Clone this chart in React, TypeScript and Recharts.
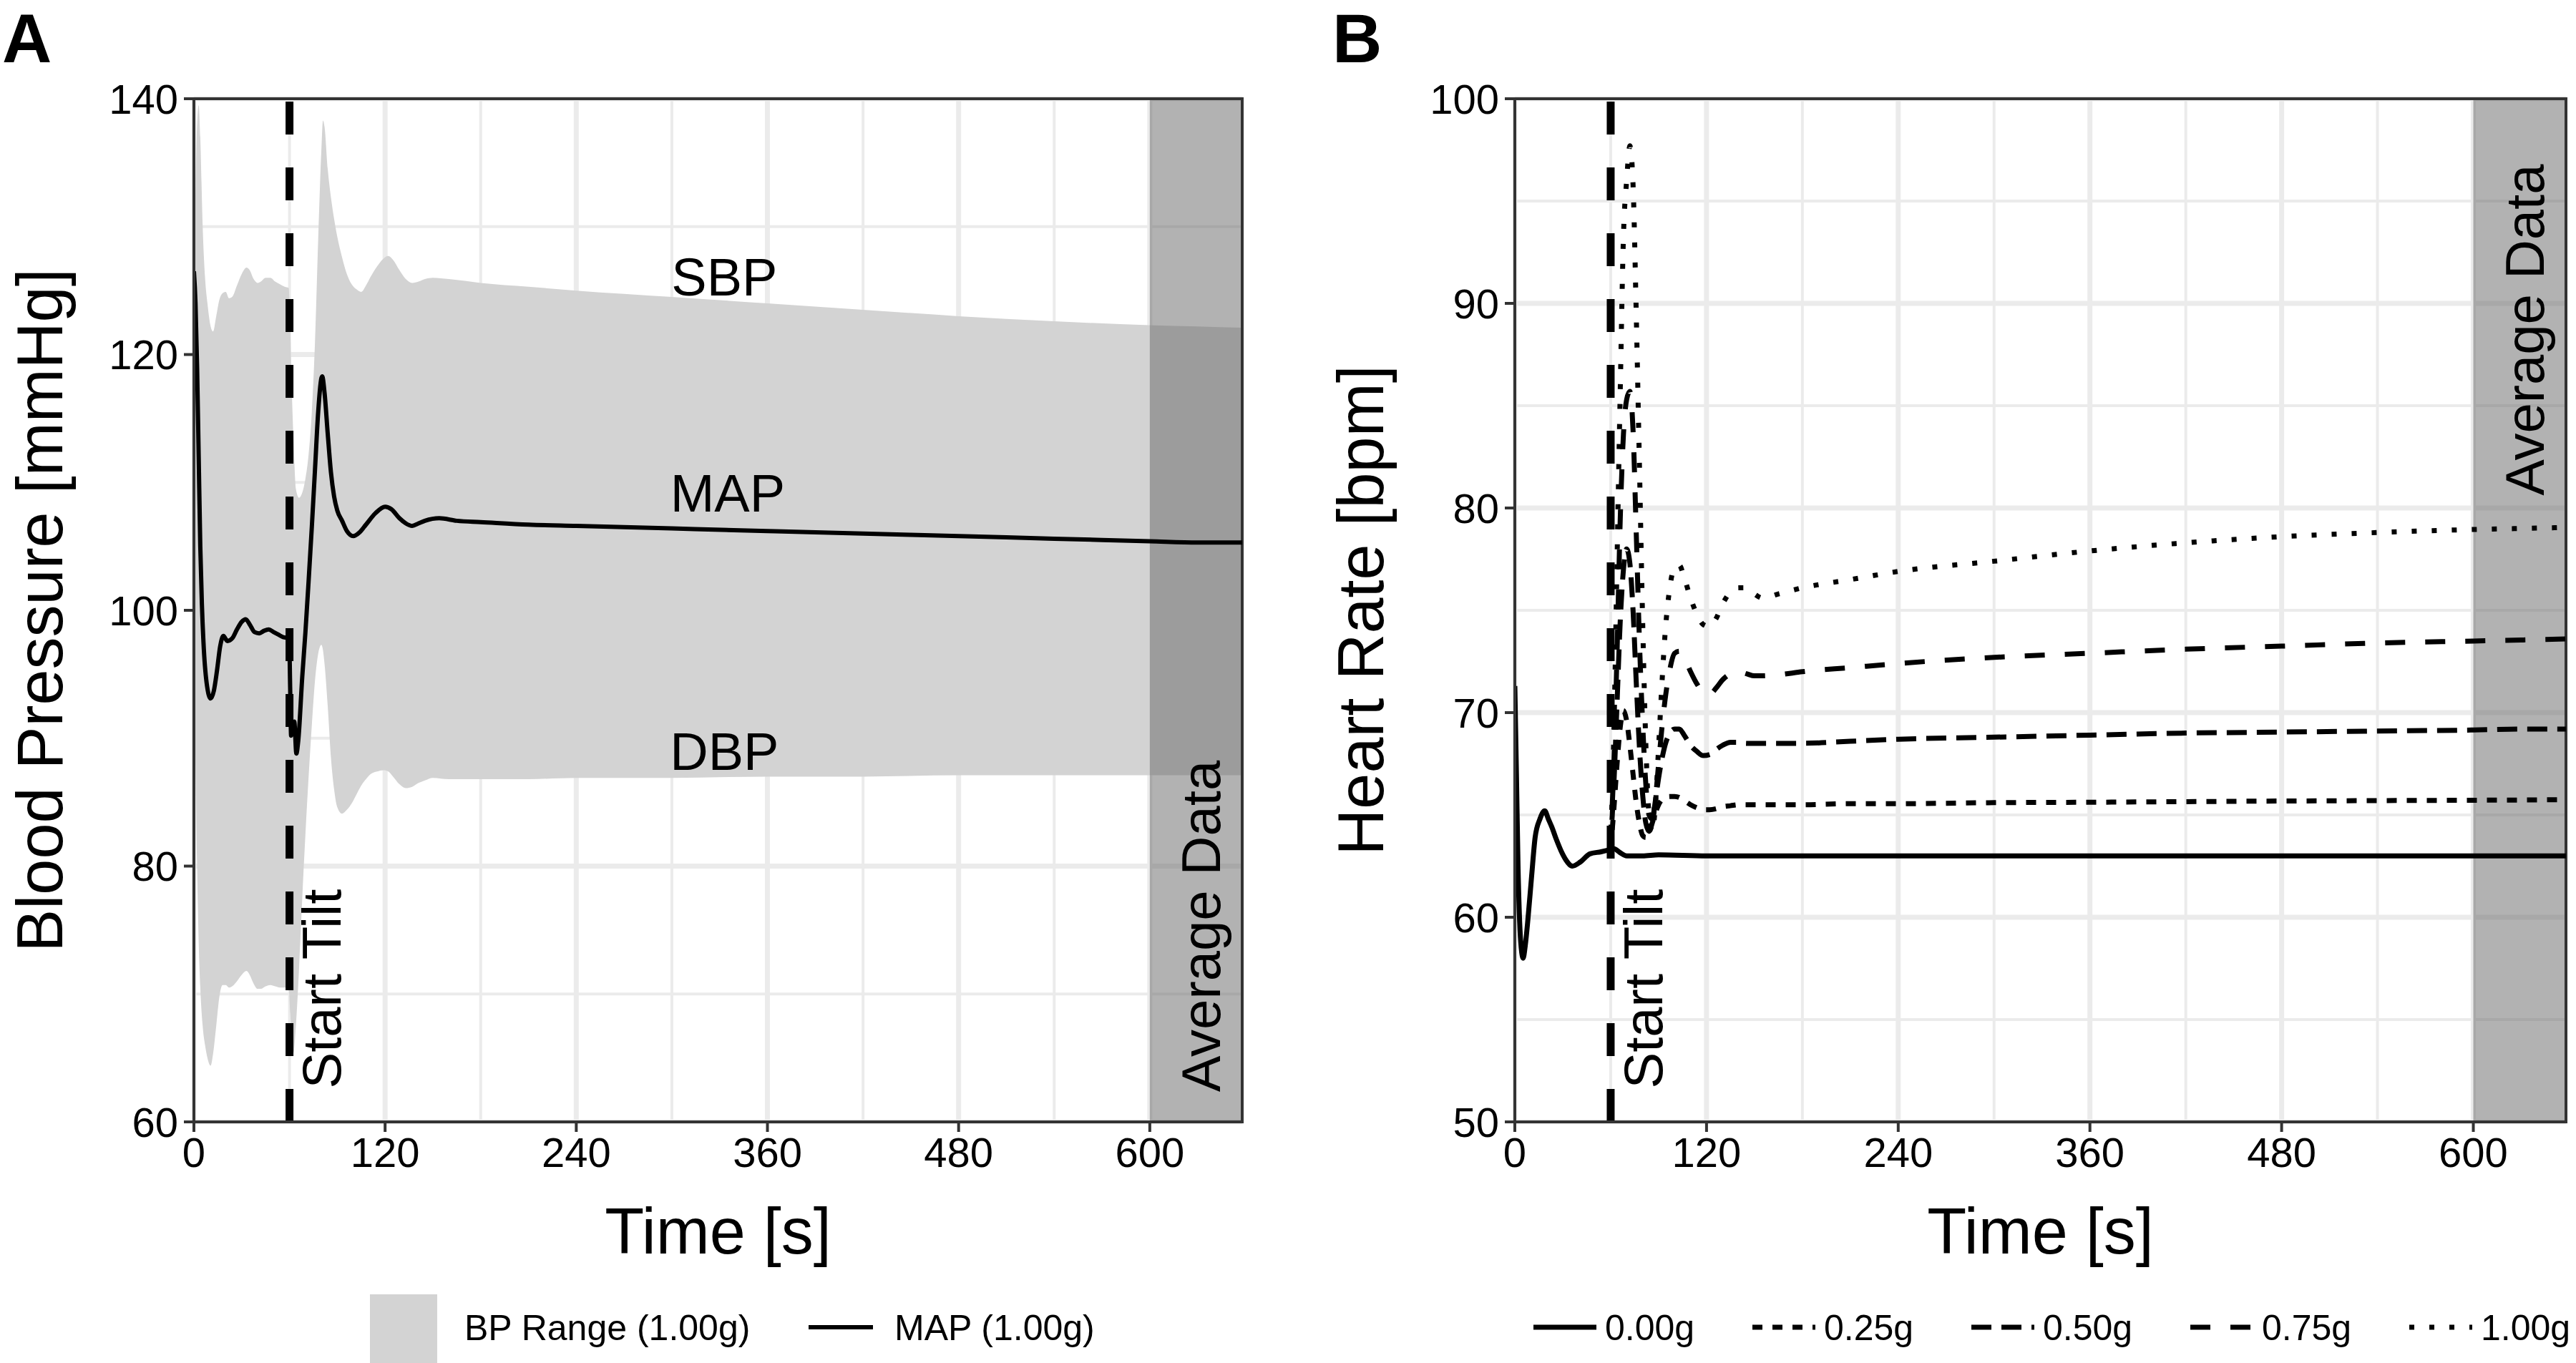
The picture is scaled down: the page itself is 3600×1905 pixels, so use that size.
import React from "react";
import {
  ComposedChart,
  Area,
  Line,
  XAxis,
  YAxis,
  CartesianGrid,
  ReferenceLine,
  ReferenceArea,
  ReferenceDot,
} from "recharts";

const FONT = "'Liberation Sans', Arial, Helvetica, sans-serif";
const INK = "#333333";
const GRID = "#ebebeb";
const BAND = "#d3d3d3";

// time axis (seconds)
const timeTicks = [0, 120, 240, 360, 480, 600];
const timeMinor = [60, 180, 300, 420, 540];
const tEnd = 658;
const tiltTime = 60;
const avgStart = 600;

// ---- panel A: blood pressure ----
const bpTicks = [60, 80, 100, 120, 140];
const bpMinor = [70, 90, 110, 130];

const bandTime = [
  0, 1, 2, 3, 4, 5.5, 7, 8.5, 10.5, 12, 14, 16, 18, 20, 22, 24, 27, 30, 33, 35,
  37.5, 40, 42, 45, 48, 51, 54, 57, 59.5, 60.5, 61.5, 62.5, 64, 66, 68, 70, 72,
  74, 76, 78, 80, 81, 82, 84, 86, 88, 90, 93, 96, 99, 102, 105, 108, 111, 115,
  119, 122, 125, 129, 133, 137, 141, 145, 150, 160, 180, 210, 240, 300, 360,
  420, 480, 540, 600, 630, 658,
];
const sbpValues = [
  127, 133, 138, 139.5, 137, 130, 126, 124, 122.2, 121.8, 123, 124.3, 124.8,
  124.9, 124.4, 124.5, 125.4, 126.3, 126.8, 126.6, 125.9, 125.6, 125.7, 126.0,
  126.0, 125.7, 125.5, 125.3, 125.2, 122, 117, 113.5, 109.5, 108.8, 109.2,
  110.3, 112.2, 115.5, 121, 129, 136, 138.3, 137.8, 134.5, 132.3, 130.6, 129.2,
  127.6, 126.3, 125.5, 125.1, 124.9, 125.4, 126.1, 126.9, 127.5, 127.7, 127.4,
  126.6, 125.9, 125.6, 125.7, 125.9, 126.0, 125.9, 125.6, 125.3, 125.0, 124.5,
  124.0, 123.5, 123.0, 122.6, 122.3, 122.2, 122.1,
];
const dbpValues = [
  96, 88, 80, 74, 70.5, 67.5, 66, 65, 64.4, 65.3, 67.5, 69.8, 70.7, 70.7, 70.5,
  70.6, 71.0, 71.5, 71.8, 71.5, 70.8, 70.4, 70.4, 70.6, 70.7, 70.6, 70.5, 70.5,
  70.4, 68.5, 66.2, 65.4, 67.5, 72, 77.5, 82.5, 87, 91, 94.5, 96.6, 97.3, 96.9,
  95.8, 92.5, 88.5, 86, 84.6, 84.1, 84.4, 84.9, 85.6, 86.3, 86.8, 87.2, 87.4,
  87.5, 87.4, 87.0, 86.4, 86.1, 86.2, 86.5, 86.7, 86.9, 86.8, 86.8, 86.8, 86.9,
  86.9, 87.0, 87.0, 87.1, 87.1, 87.1, 87.1, 87.1,
];

const mapTime = [
  0, 1, 2, 3, 4, 5, 6, 8, 10.5, 12.5, 14.5, 16.5, 18.5, 21, 24, 27, 30, 32.5,
  35, 38, 41, 44, 47, 50, 53, 56, 59.8, 60.4, 61, 62, 63, 64.3, 65.5, 68, 70,
  72, 74, 76, 78, 80.5, 82, 84, 86, 88, 90, 93, 96, 100, 104, 108, 114, 120,
  124, 129, 133, 137, 141, 145, 154, 165, 180, 210, 240, 300, 360, 420, 480,
  540, 600, 630, 658,
];
const mapValues = [
  126.5, 124, 119, 112, 105, 100.5, 97.5, 94.3, 93.1, 93.7, 95.3, 97.2, 98.0,
  97.6, 97.8, 98.5, 99.1, 99.3, 98.9, 98.3, 98.2, 98.4, 98.5, 98.3, 98.1, 97.9,
  97.8, 94, 90.2, 91, 91.3, 88.8, 89.8, 94.8, 98.3, 102.3, 106.5, 111, 115.5,
  118.3, 117, 113.8, 110.8, 108.9, 107.8, 107.0, 106.2, 105.8, 106.1, 106.7,
  107.6, 108.1, 107.9, 107.2, 106.8, 106.6, 106.8, 107.0, 107.2, 107.0, 106.9,
  106.7, 106.6, 106.4, 106.2, 106.0, 105.8, 105.6, 105.4, 105.3, 105.3,
];

// ---- panel B: heart rate ----
const hrTicks = [50, 60, 70, 80, 90, 100];
const hrMinor = [55, 65, 75, 85, 95];

const hrBaseTime = [
  0, 1, 2, 3, 4, 5.2, 6.5, 8.2, 10.5, 12.7, 15.7, 18.7, 21, 23.2, 26, 29.2, 32,
  36, 41, 47, 54, 59.5, 62, 66, 70, 80, 90, 120, 180, 300, 420, 540, 658,
];
const hr000 = [
  71.3, 67, 62.5, 59.8, 58.5, 58.0, 58.6, 59.9, 62.0, 63.9, 64.8, 65.2, 64.8,
  64.4, 63.8, 63.2, 62.8, 62.5, 62.7, 63.1, 63.2, 63.3, 63.35, 63.15, 63.0,
  63.0, 63.05, 63.0, 63.0, 63.0, 63.0, 63.0, 63.0,
];

const hrTiltTime = [
  59.5, 61, 62, 64, 66, 68, 70, 72, 74, 76, 78, 80, 82, 84, 86, 88, 90, 92, 94,
  97, 100, 103, 106, 110, 114, 118, 122, 126, 130, 135, 140, 145, 150, 155, 165,
  180, 210, 240, 300, 360, 420, 480, 540, 600, 630, 658,
];
const hr025 = [
  63.3, 64.3, 65.3, 67.5, 69.3, 70.1, 69.6, 68.4, 67, 65.6, 64.6, 64.0, 63.9,
  64.1, 64.6, 65.1, 65.5, 65.75, 65.85, 65.9, 65.9, 65.85, 65.7, 65.5, 65.35,
  65.25, 65.25, 65.3, 65.4, 65.45, 65.5, 65.5, 65.5, 65.5, 65.5, 65.5, 65.55,
  65.55, 65.6, 65.62, 65.65, 65.68, 65.7, 65.72, 65.73, 65.75,
];
const hr050 = [
  63.3, 65, 66.5, 70.5, 74.5, 77, 78, 77.3, 75, 71.5, 68.3, 66, 64.6, 64.2,
  64.6, 65.7, 66.8, 67.7, 68.4, 69.0, 69.2, 69.2, 68.9, 68.4, 68.1, 67.9, 67.95,
  68.2, 68.4, 68.55, 68.55, 68.5, 68.5, 68.5, 68.5, 68.5, 68.6, 68.7, 68.8,
  68.9, 69.0, 69.05, 69.1, 69.15, 69.2, 69.2,
];
const hr075 = [
  63.3, 65.5, 67.5, 73, 79.5, 83.6, 85.3, 85.7, 83.8, 78.8, 73.5, 69.5, 66.5,
  65, 64.8, 65.8, 67.5, 69.2, 70.6, 72.1, 72.9, 73.0, 72.7, 72.0, 71.4, 71.0,
  70.9, 71.2, 71.6, 71.9, 72.0, 71.9, 71.8, 71.8, 71.85, 72.0, 72.2, 72.4, 72.7,
  72.9, 73.1, 73.25, 73.4, 73.5, 73.55, 73.6,
];
const hr100 = [
  63.3, 66, 69, 77.5, 85.8, 93.3, 96, 97.7, 95.8, 89.5, 82.1, 74.5, 68.5, 65,
  64.2, 65.5, 68.3, 71.3, 73.8, 76.1, 77.1, 77.2, 76.6, 75.6, 74.8, 74.3, 74.2,
  74.6, 75.3, 75.9, 76.1, 76.1, 75.8, 75.6, 75.8, 76.1, 76.5, 76.9, 77.4, 77.9,
  78.3, 78.6, 78.8, 78.95, 79.0, 79.05,
];

const hrNames = ["0.00g", "0.25g", "0.50g", "0.75g", "1.00g"];
const hrDash = ["", "14 14", "28 14", "28 28", "7 21"];

const toPoints = (ts: number[], vs: number[]) => ts.map((t, i) => ({ t, v: vs[i] }));

const bandData = bandTime.map((t, i) => ({ t, range: [dbpValues[i], sbpValues[i]] }));
const mapData = toPoints(mapTime, mapValues);
const hrData = [
  toPoints(hrBaseTime, hr000),
  toPoints(hrTiltTime, hr025),
  toPoints(hrTiltTime, hr050),
  toPoints(hrTiltTime, hr075),
  toPoints(hrTiltTime, hr100),
];

const axisStyle = {
  axisLine: { stroke: INK, strokeWidth: 4 },
  tickLine: { stroke: INK, strokeWidth: 4 },
  tickSize: 14,
  tickMargin: 8,
  tick: { fill: "#000", fontSize: 58, fontFamily: FONT },
};

const XTitle = (props: any) => {
  const { viewBox, text } = props;
  const cx = viewBox.x + viewBox.width / 2;
  return (
    <text x={cx} y={viewBox.y + 184} textAnchor="middle" fontSize={90} fontFamily={FONT} fill="#000">
      {text}
    </text>
  );
};

const YTitle = (props: any) => {
  const { viewBox, text } = props;
  const bx = viewBox.x + viewBox.width - 184;
  const cy = viewBox.y + viewBox.height / 2;
  return (
    <text x={bx} y={cy} transform={`rotate(-90 ${bx} ${cy})`} textAnchor="middle" fontSize={90} fontFamily={FONT} fill="#000">
      {text}
    </text>
  );
};

// text centred on a data point, optionally turned to read bottom-to-top
const PointText = (props: any) => {
  const { viewBox, text, upright = false, size = 76 } = props;
  const cx = viewBox.x + viewBox.width / 2;
  const cy = viewBox.y + viewBox.height / 2;
  return (
    <text
      x={cx}
      y={cy}
      dy="0.36em"
      transform={upright ? `rotate(-90 ${cx} ${cy})` : undefined}
      textAnchor="middle"
      fontSize={size}
      fontFamily={FONT}
      fill="#000"
    >
      {text}
    </text>
  );
};

const noDot = { r: 0, fill: "none", stroke: "none" };

const PanelA = () => (
  <ComposedChart width={1800} height={1905} data={bandData} margin={{ top: 138, right: 64, bottom: 0, left: 0 }}>
    <CartesianGrid verticalValues={timeMinor} horizontalValues={bpMinor} stroke={GRID} strokeWidth={4} />
    <CartesianGrid verticalValues={timeTicks} horizontalValues={bpTicks} stroke={GRID} strokeWidth={7} />
    <XAxis
      type="number"
      dataKey="t"
      domain={[0, tEnd]}
      ticks={timeTicks}
      allowDataOverflow
      height={337}
      {...axisStyle}
      label={<XTitle text="Time [s]" />}
    />
    <YAxis
      type="number"
      domain={[60, 140]}
      ticks={bpTicks}
      allowDataOverflow
      width={271}
      {...axisStyle}
      label={<YTitle text="Blood Pressure [mmHg]" />}
    />
    <Area
      dataKey="range"
      type="monotone"
      fill={BAND}
      fillOpacity={1}
      stroke="none"
      activeDot={false}
      isAnimationActive={false}
    />
    <Line
      data={mapData}
      dataKey="v"
      type="monotone"
      stroke="#000"
      strokeWidth={6}
      dot={false}
      activeDot={false}
      isAnimationActive={false}
    />
    <ReferenceLine x={tiltTime} stroke="#000" strokeWidth={11} strokeDasharray="46 46" />
    <ReferenceArea x1={avgStart} x2={tEnd} y1={60} y2={140} fill="#666666" fillOpacity={0.5} stroke="none" />
    <ReferenceDot x={333} y={126.1} {...noDot} label={<PointText text="SBP" size={74} />} />
    <ReferenceDot x={335} y={109.2} {...noDot} label={<PointText text="MAP" size={74} />} />
    <ReferenceDot x={333} y={89.0} {...noDot} label={<PointText text="DBP" size={74} />} />
    <ReferenceDot x={80} y={70.4} {...noDot} label={<PointText text="Start Tilt" upright />} />
    <ReferenceDot x={632} y={75.3} {...noDot} label={<PointText text="Average Data" upright />} />
    <ReferenceArea x1={0} x2={tEnd} y1={60} y2={140} fill="none" stroke={INK} strokeWidth={4} />
  </ComposedChart>
);

const PanelB = () => (
  <ComposedChart width={1800} height={1905} data={hrData[0]} margin={{ top: 138, right: 14, bottom: 0, left: 0 }}>
    <CartesianGrid verticalValues={timeMinor} horizontalValues={hrMinor} stroke={GRID} strokeWidth={4} />
    <CartesianGrid verticalValues={timeTicks} horizontalValues={hrTicks} stroke={GRID} strokeWidth={7} />
    <XAxis
      type="number"
      dataKey="t"
      domain={[0, tEnd]}
      ticks={timeTicks}
      allowDataOverflow
      height={337}
      {...axisStyle}
      label={<XTitle text="Time [s]" />}
    />
    <YAxis
      type="number"
      domain={[50, 100]}
      ticks={hrTicks}
      allowDataOverflow
      width={317}
      {...axisStyle}
      label={<YTitle text="Heart Rate [bpm]" />}
    />
    {hrData.map((d, i) => (
      <Line
        key={hrNames[i]}
        data={d}
        dataKey="v"
        name={hrNames[i]}
        type="monotone"
        stroke="#000"
        strokeWidth={7}
        strokeDasharray={hrDash[i] || undefined}
        dot={false}
        activeDot={false}
        isAnimationActive={false}
      />
    ))}
    <ReferenceLine x={tiltTime} stroke="#000" strokeWidth={11} strokeDasharray="46 46" />
    <ReferenceArea x1={avgStart} x2={tEnd} y1={50} y2={100} fill="#666666" fillOpacity={0.5} stroke="none" />
    <ReferenceDot x={80} y={56.5} {...noDot} label={<PointText text="Start Tilt" upright />} />
    <ReferenceDot x={632} y={88.7} {...noDot} label={<PointText text="Average Data" upright />} />
    <ReferenceArea x1={0} x2={tEnd} y1={50} y2={100} fill="none" stroke={INK} strokeWidth={4} />
  </ComposedChart>
);

const Overlay = () => (
  <svg width={3600} height={1905} style={{ position: "absolute", left: 0, top: 0, pointerEvents: "none" }}>
    <text x={3} y={87} fontSize={96} fontWeight="bold" fontFamily={FONT}>A</text>
    <text x={1862} y={87} fontSize={96} fontWeight="bold" fontFamily={FONT}>B</text>
    {/* legend A */}
    <rect x={517} y={1809} width={94} height={96} fill={BAND} />
    <text x={649} y={1873} fontSize={50} fontFamily={FONT}>BP Range (1.00g)</text>
    <line x1={1130} x2={1220} y1={1855} y2={1855} stroke="#000" strokeWidth={6} />
    <text x={1250} y={1873} fontSize={50} fontFamily={FONT}>MAP (1.00g)</text>
    {/* legend B */}
    {hrNames.map((n, i) => {
      const x0 = 2143 + i * 306;
      return (
        <g key={n}>
          <line x1={x0} x2={x0 + 88} y1={1855} y2={1855} stroke="#000" strokeWidth={7} strokeDasharray={hrDash[i] || undefined} />
          <text x={x0 + 100} y={1873} fontSize={50} fontFamily={FONT}>{n}</text>
        </g>
      );
    })}
  </svg>
);

export default function App() {
  return (
    <div style={{ position: "absolute", left: 0, top: 0, width: 3600, height: 1905, background: "#fff", fontFamily: FONT }}>
      <div style={{ position: "absolute", left: 0, top: 0 }}>
        <PanelA />
      </div>
      <div style={{ position: "absolute", left: 1800, top: 0 }}>
        <PanelB />
      </div>
      <Overlay />
    </div>
  );
}
